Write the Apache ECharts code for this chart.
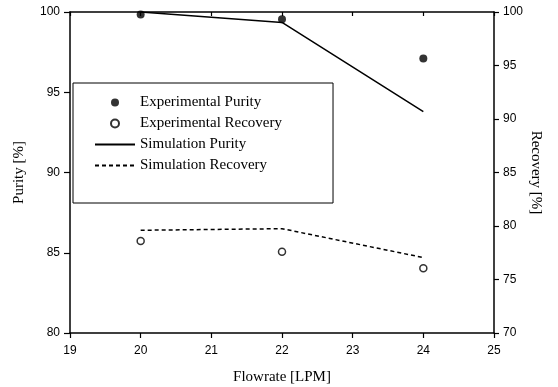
<!DOCTYPE html>
<html>
<head>
<meta charset="utf-8">
<script src="https://cdn.jsdelivr.net/npm/echarts@6/dist/echarts.min.js"></script>
<style>
  html, body { margin: 0; padding: 0; background: #fff; }
  #chart { width: 558px; height: 387px; }
</style>
</head>
<body>
<div id="chart"></div>
<script>
// Flow rates tested (LPM)
const flowrate = [20, 22, 24];
// Measured values
const expPurity = [99.85, 99.55, 97.1];
const expRecovery = [78.6, 77.6, 76.05];
// Simulated values
const simPurity = [100, 99.35, 93.8];
const simRecovery = [79.6, 79.75, 77.05];

const seriesNames = ['Experimental Purity', 'Experimental Recovery', 'Simulation Purity', 'Simulation Recovery'];

const pairs = (ys) => flowrate.map((x, i) => [x, ys[i]]);

const tickFont = { fontFamily: 'Liberation Sans', fontSize: 12, color: '#000' };
const nameFont = { fontFamily: 'Liberation Serif', fontSize: 15, color: '#000' };
const axisLine = { show: true, onZero: false, lineStyle: { color: '#000', width: 1.5 } };

const chart = echarts.init(document.getElementById('chart'), null, { renderer: 'canvas' });
chart.setOption({
  animation: false,
  backgroundColor: '#fff',
  grid: { left: 70, right: 64, top: 12, bottom: 54, containLabel: false, outerBoundsMode: 'none' },
  legend: {
    orient: 'vertical',
    left: 73,
    top: 83,
    padding: [12, 51, 30, 21],
    itemGap: 6,
    itemWidth: 40,
    itemHeight: 8,
    borderColor: '#000',
    borderWidth: 1,
    textStyle: { fontFamily: 'Liberation Serif', fontSize: 15, color: '#000' },
    data: [
      { name: seriesNames[0] },
      { name: seriesNames[1] },
      // plain line keys, no marker dot
      { name: seriesNames[2], itemStyle: { opacity: 0 } },
      { name: seriesNames[3], itemStyle: { opacity: 0 } }
    ]
  },
  xAxis: [
    {
      type: 'value', min: 19, max: 25, interval: 1, position: 'bottom',
      name: 'Flowrate [LPM]', nameLocation: 'middle', nameGap: 37, nameTextStyle: nameFont,
      nameMoveOverlap: false,
      axisLine: axisLine,
      axisTick: { show: true, inside: false, length: 5, lineStyle: { color: '#000', width: 1.2 } },
      axisLabel: Object.assign({ margin: 12 }, tickFont),
      splitLine: { show: false }
    },
    {
      type: 'value', min: 19, max: 25, interval: 1, position: 'top',
      axisLine: axisLine,
      axisTick: { show: true, inside: true, length: 4, lineStyle: { color: '#000', width: 1.2 } },
      axisLabel: { show: false },
      splitLine: { show: false }
    }
  ],
  yAxis: [
    {
      type: 'value', min: 80, max: 100, interval: 5, position: 'left',
      name: 'Purity [%]', nameLocation: 'middle', nameGap: 43, nameTextStyle: nameFont,
      nameMoveOverlap: false,
      axisLine: axisLine,
      axisTick: { show: true, inside: false, length: 6, lineStyle: { color: '#000', width: 1.2 } },
      axisLabel: Object.assign({ margin: 10 }, tickFont),
      splitLine: { show: false }
    },
    {
      type: 'value', min: 70, max: 100, interval: 5, position: 'right',
      name: 'Recovery [%]', nameLocation: 'middle', nameGap: 34, nameRotate: -90, nameTextStyle: nameFont,
      nameMoveOverlap: false,
      axisLine: axisLine,
      axisTick: { show: true, inside: false, length: 5, lineStyle: { color: '#000', width: 1.2 } },
      axisLabel: Object.assign({ margin: 9 }, tickFont),
      splitLine: { show: false }
    }
  ],
  series: [
    {
      name: seriesNames[0], type: 'scatter', yAxisIndex: 0,
      symbol: 'circle', symbolSize: 8,
      itemStyle: { color: '#000' },
      data: pairs(expPurity), z: 5
    },
    {
      name: seriesNames[1], type: 'scatter', yAxisIndex: 1,
      symbol: 'circle', symbolSize: 7,
      itemStyle: { color: '#fff', borderColor: '#000', borderWidth: 1.5 },
      data: pairs(expRecovery), z: 5
    },
    {
      name: seriesNames[2], type: 'line', yAxisIndex: 0,
      symbol: 'none', itemStyle: { color: '#000' },
      lineStyle: { color: '#000', width: 1.5, type: 'solid' },
      data: pairs(simPurity)
    },
    {
      name: seriesNames[3], type: 'line', yAxisIndex: 1,
      symbol: 'none', itemStyle: { color: '#000' },
      lineStyle: { color: '#000', width: 1.5, type: [4, 3] },
      data: pairs(simRecovery)
    }
  ]
});
</script>
</body>
</html>
